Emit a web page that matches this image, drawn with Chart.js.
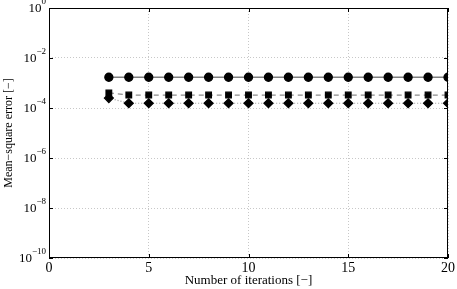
<!DOCTYPE html>
<html>
<head>
<meta charset="utf-8">
<script src="https://cdn.jsdelivr.net/npm/chart.js@4"></script>
<style>
  html, body { margin: 0; padding: 0; background: #fff; }
  #wrap { width: 457px; height: 289px; }
</style>
</head>
<body>
<div id="wrap"><canvas id="chart"></canvas></div>
<script>
// iterations and mean-square error for the three runs
var iterations = [3, 4, 5, 6, 7, 8, 9, 10, 11, 12, 13, 14, 15, 16, 17, 18, 19, 20];
var errCircle  = [1.7e-3, 1.7e-3, 1.7e-3, 1.7e-3, 1.7e-3, 1.7e-3, 1.7e-3, 1.7e-3, 1.7e-3, 1.7e-3, 1.7e-3, 1.7e-3, 1.7e-3, 1.7e-3, 1.7e-3, 1.7e-3, 1.7e-3, 1.7e-3];
var errSquare  = [4.0e-4, 3.3e-4, 3.3e-4, 3.3e-4, 3.3e-4, 3.3e-4, 3.3e-4, 3.3e-4, 3.3e-4, 3.3e-4, 3.3e-4, 3.3e-4, 3.3e-4, 3.3e-4, 3.3e-4, 3.3e-4, 3.3e-4, 3.3e-4];
var errDiamond = [2.5e-4, 1.55e-4, 1.55e-4, 1.55e-4, 1.55e-4, 1.55e-4, 1.55e-4, 1.55e-4, 1.55e-4, 1.55e-4, 1.55e-4, 1.55e-4, 1.55e-4, 1.55e-4, 1.55e-4, 1.55e-4, 1.55e-4, 1.55e-4];
var xTicks = [0, 5, 10, 15, 20];
var yExponents = [0, -2, -4, -6, -8, -10];

function pts(ys) {
  return iterations.map(function (x, i) { return { x: x, y: ys[i] }; });
}

var serif = '"Liberation Serif", "DejaVu Serif", serif';

// frame, inward ticks and 10^n labels with real superscripts
var framePlugin = {
  id: 'frame',
  afterDraw: function (chart) {
    var ctx = chart.ctx, a = chart.chartArea;
    var xs = chart.scales.x, ys = chart.scales.y;
    ctx.save();
    ctx.strokeStyle = '#000';
    ctx.lineWidth = 1;
    ctx.strokeRect(Math.round(a.left) + 0.5, Math.round(a.top) + 0.5,
      Math.round(a.right - a.left) - 1, Math.round(a.bottom - a.top) - 1);
    ctx.beginPath();
    xTicks.forEach(function (v) {
      var px = Math.round(xs.getPixelForValue(v)) + 0.5;
      ctx.moveTo(px, a.bottom); ctx.lineTo(px, a.bottom - 4);
      ctx.moveTo(px, a.top); ctx.lineTo(px, a.top + 4);
    });
    yExponents.forEach(function (e) {
      var py = Math.round(ys.getPixelForValue(Math.pow(10, e))) + 0.5;
      ctx.moveTo(a.left, py); ctx.lineTo(a.left + 4, py);
      ctx.moveTo(a.right, py); ctx.lineTo(a.right - 4, py);
    });
    ctx.stroke();

    ctx.fillStyle = '#000';
    ctx.textBaseline = 'middle';
    yExponents.forEach(function (e) {
      var py = ys.getPixelForValue(Math.pow(10, e));
      var sup = String(e).replace('-', '\u2212');
      ctx.font = '9px ' + serif;
      var ew = ctx.measureText(sup).width;
      var right = a.left - 3;
      ctx.textAlign = 'right';
      ctx.fillText(sup, right, py - 6);
      ctx.font = '13px ' + serif;
      ctx.fillText('10', right - ew, py + 1);
    });
    ctx.restore();
  }
};

new Chart(document.getElementById('chart'), {
  type: 'line',
  data: {
    datasets: [{
      data: pts(errCircle),
      borderColor: '#808080',
      borderWidth: 1.3,
      pointStyle: 'circle',
      pointRadius: 4,
      pointBackgroundColor: '#000',
      pointBorderColor: '#000'
    }, {
      data: pts(errSquare),
      borderColor: '#8c8c8c',
      borderWidth: 1.2,
      borderDash: [5, 4],
      pointStyle: 'rect',
      pointRadius: 4,
      pointBackgroundColor: '#000',
      pointBorderColor: '#000'
    }, {
      data: pts(errDiamond),
      borderColor: '#999',
      borderWidth: 1.2,
      borderDash: [1, 2],
      pointStyle: 'rectRot',
      pointRadius: 4.5,
      pointBackgroundColor: '#000',
      pointBorderColor: '#000'
    }]
  },
  options: {
    responsive: true,
    maintainAspectRatio: false,
    animation: false,
    layout: { padding: { top: 8, right: 9, left: 0, bottom: 0 } },
    plugins: { legend: { display: false }, tooltip: { enabled: false } },
    scales: {
      x: {
        type: 'linear',
        min: 0,
        max: 20,
        afterBuildTicks: function (s) { s.ticks = xTicks.map(function (v) { return { value: v }; }); },
        afterFit: function (s) { s.height = 31; },
        grid: { color: '#c8c8c8', drawTicks: false },
        border: { display: false, dash: [1, 2] },
        ticks: { color: '#000', padding: 2, maxRotation: 0, font: { family: serif, size: 14 } },
        title: {
          display: true,
          text: 'Number of iterations [\u2212]',
          color: '#000',
          padding: { top: 0, bottom: 1 },
          font: { family: serif, size: 13 }
        }
      },
      y: {
        type: 'logarithmic',
        min: 1e-10,
        max: 1,
        afterBuildTicks: function (s) { s.ticks = yExponents.map(function (e) { return { value: Math.pow(10, e) }; }); },
        afterFit: function (s) { s.width = 49; },
        grid: { color: '#c8c8c8', drawTicks: false },
        border: { display: false, dash: [1, 2] },
        ticks: { display: false },
        title: {
          display: true,
          text: 'Mean\u2212square error [\u2212]',
          color: '#000',
          padding: { top: 2, bottom: 0 },
          font: { family: serif, size: 12 }
        }
      }
    }
  },
  plugins: [framePlugin]
});
</script>
</body>
</html>
